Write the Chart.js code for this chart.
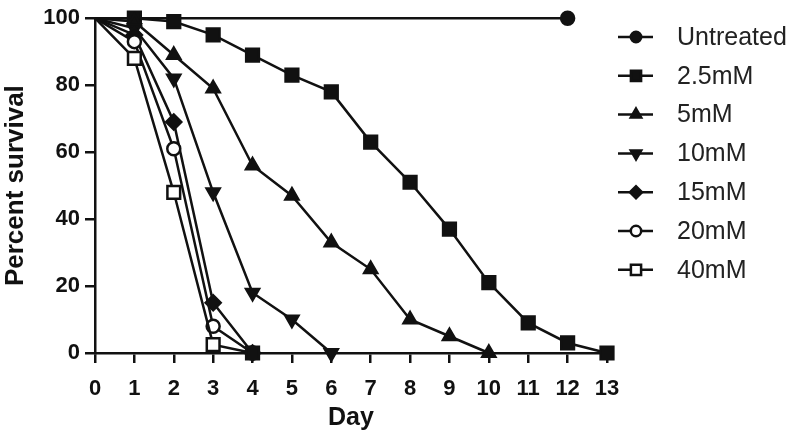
<!DOCTYPE html>
<html>
<head>
<meta charset="utf-8">
<script src="https://cdn.jsdelivr.net/npm/chart.js@4"></script>
<style>
  html, body { margin: 0; padding: 0; background: #fff; }
  #wrap { width: 792px; height: 437px; position: relative; }
</style>
</head>
<body>
<div id="wrap"><canvas id="survivalChart"></canvas></div>
<script>
// series labels
const seriesNames = ['Untreated', '2.5mM', '5mM', '10mM', '15mM', '20mM', '40mM'];

// days for each series (x values)
const daysUntreated = [0, 12];
const days25 = [0, 1, 2, 3, 4, 5, 6, 7, 8, 9, 10, 11, 12, 13];
const days5 = [0, 1, 2, 3, 4, 5, 6, 7, 8, 9, 10];
const days10 = [0, 1, 2, 3, 4, 5, 6];
const daysShort = [0, 1, 2, 3, 4];

// percent survival
const survUntreated = [100, 100];
const surv25 = [100, 100, 99, 95, 89, 83, 78, 63, 51, 37, 21, 9, 3, 0];
const surv5 = [100, 99, 89, 79, 56, 47, 33, 25, 10, 5, 0];
const surv10 = [100, 97, 82, 48, 18, 10, 0];
const surv15 = [100, 95, 69, 15, 0];
const surv20 = [100, 93, 61, 8, 0];
const surv40 = [100, 88, 48, 2.5, 0];

// y ticks
const yTicks = [0, 20, 40, 60, 80, 100];

const ink = '#111';

const toPoints = (xs, ys) => xs.map((x, i) => ({ x: x, y: ys[i] }));

// marker settings per series
const markers = [
    { style: 'circle', radius: 6.5, rotation: 0, fill: ink },
    { style: 'rect', radius: 9, rotation: 0, fill: ink },
    { style: 'triangle', radius: 7.5, rotation: 0, fill: ink },
    { style: 'triangle', radius: 7.5, rotation: 180, fill: ink },
    { style: 'rectRot', radius: 7.5, rotation: 0, fill: ink },
    { style: 'circle', radius: 6.5, rotation: 0, fill: '#fff' },
    { style: 'rect', radius: 9, rotation: 0, fill: '#fff' }
];

const seriesData = [
    toPoints(daysUntreated, survUntreated),
    toPoints(days25, surv25),
    toPoints(days5, surv5),
    toPoints(days10, surv10),
    toPoints(daysShort, surv15),
    toPoints(daysShort, surv20),
    toPoints(daysShort, surv40)
];

const datasets = seriesNames.map((name, i) => ({
    label: name,
    data: seriesData[i],
    borderColor: ink,
    borderWidth: 2.5,
    backgroundColor: ink,
    pointStyle: markers[i].style,
    // no marker at day 0, like the original figure
    pointRadius: (c) => c.dataIndex === 0 ? 0 : markers[i].radius,
    pointRotation: markers[i].rotation,
    // points that reach 0 pile up into a solid blob in the original
    pointBackgroundColor: (c) => (c.raw && c.raw.y === 0) ? ink : markers[i].fill,
    pointBorderColor: ink,
    pointBorderWidth: 2.5,
    tension: 0,
    clip: false,
    order: seriesNames.length - i
}));

// draws the line + marker legend on the right
const sideLegend = {
    id: 'sideLegend',
    afterDraw(chart) {
        const ctx = chart.ctx;
        ctx.save();
        seriesNames.forEach((name, i) => {
            const y = 37 + i * 38.8;
            ctx.strokeStyle = ink;
            ctx.lineWidth = 2.5;
            ctx.beginPath();
            ctx.moveTo(618, y);
            ctx.lineTo(653, y);
            ctx.stroke();
            ctx.fillStyle = markers[i].fill;
            ctx.strokeStyle = ink;
            ctx.lineWidth = 2.5;
            Chart.helpers.drawPoint(ctx, {
                pointStyle: markers[i].style,
                rotation: markers[i].rotation,
                radius: markers[i].radius * 0.8,
                borderWidth: 2.5
            }, 636, y);
            ctx.fillStyle = '#222';
            ctx.font = '25px "Liberation Sans", Arial, sans-serif';
            ctx.textBaseline = 'middle';
            ctx.textAlign = 'left';
            ctx.fillText(name, 677, y + 1);
        });
        ctx.restore();
    }
};

new Chart(document.getElementById('survivalChart'), {
    type: 'line',
    data: { datasets: datasets },
    plugins: [sideLegend],
    options: {
        responsive: true,
        maintainAspectRatio: false,
        animation: false,
        layout: { padding: { left: 0, top: 14, right: 185, bottom: 0 } },
        plugins: {
            legend: { display: false },
            tooltip: { enabled: false }
        },
        scales: {
            x: {
                type: 'linear',
                min: 0,
                max: 13,
                ticks: {
                    stepSize: 1,
                    color: ink,
                    padding: 13,
                    font: { family: '"Liberation Sans", Arial, sans-serif', size: 22, weight: 'bold' }
                },
                grid: { drawOnChartArea: false, drawTicks: true, tickLength: 10, color: ink, lineWidth: 2.5 },
                border: { color: ink, width: 2.5 },
                title: {
                    display: true,
                    text: 'Day',
                    color: ink,
                    padding: { top: 0, bottom: 4 },
                    font: { family: '"Liberation Sans", Arial, sans-serif', size: 25, weight: 'bold' }
                },
                afterFit(scale) { scale.height = 84; }
            },
            y: {
                min: 0,
                max: 100,
                afterBuildTicks(scale) { scale.ticks = yTicks.map(v => ({ value: v })); },
                ticks: {
                    color: ink,
                    padding: 5,
                    font: { family: '"Liberation Sans", Arial, sans-serif', size: 22, weight: 'bold' }
                },
                grid: { drawOnChartArea: false, drawTicks: true, tickLength: 10, color: ink, lineWidth: 2.5 },
                border: { color: ink, width: 2.5 },
                title: {
                    display: true,
                    text: 'Percent survival',
                    color: ink,
                    padding: { top: 0, bottom: 0 },
                    font: { family: '"Liberation Sans", Arial, sans-serif', size: 26, weight: 'bold' }
                },
                afterFit(scale) { scale.width = 95; }
            }
        }
    }
});
</script>
</body>
</html>
